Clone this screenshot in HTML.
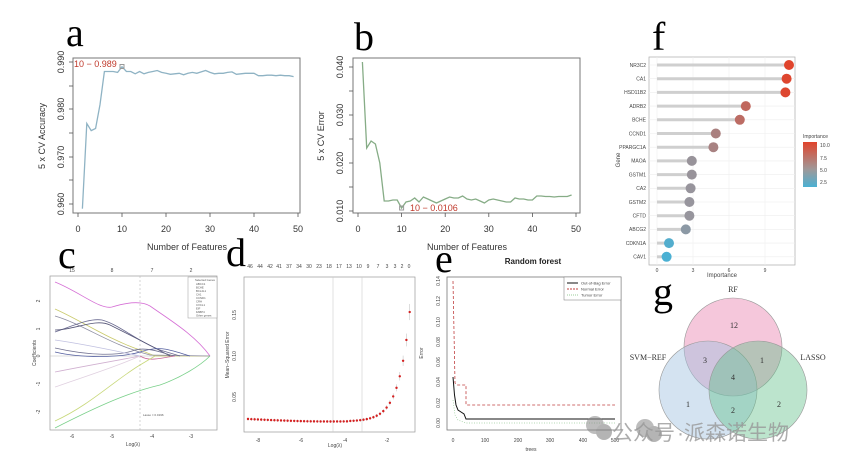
<!DOCTYPE html>
<html><head><meta charset="utf-8"><style>
html,body{margin:0;padding:0;background:#fff}
svg{display:block;font-family:"Liberation Sans",sans-serif}
.L{font-family:"Liberation Serif",serif;font-size:40px;fill:#000}
.t{font-size:9px;fill:#333}
.s{font-size:5px;fill:#444}
</style></head><body>
<svg id="s" width="852" height="462" viewBox="0 0 852 462" xmlns="http://www.w3.org/2000/svg">
<rect width="852" height="462" fill="#fff"/>
<!-- panel a -->
<text class="L" x="66" y="46">a</text>
<rect x="73" y="58" width="227" height="155" fill="none" stroke="#777" stroke-width="1"/>
<g stroke="#555" stroke-width="0.8">
<line x1="73" y1="62" x2="69" y2="62"/><line x1="73" y1="86" x2="69" y2="86"/><line x1="73" y1="109" x2="69" y2="109"/><line x1="73" y1="133" x2="69" y2="133"/><line x1="73" y1="157" x2="69" y2="157"/><line x1="73" y1="180" x2="69" y2="180"/><line x1="73" y1="204" x2="69" y2="204"/>
<line x1="78" y1="213" x2="78" y2="217"/><line x1="122" y1="213" x2="122" y2="217"/><line x1="166" y1="213" x2="166" y2="217"/><line x1="210" y1="213" x2="210" y2="217"/><line x1="254" y1="213" x2="254" y2="217"/><line x1="298" y1="213" x2="298" y2="217"/>
</g>
<g class="t" text-anchor="middle">
<text transform="translate(64,62) rotate(-90)">0.990</text><text transform="translate(64,109) rotate(-90)">0.980</text><text transform="translate(64,157) rotate(-90)">0.970</text><text transform="translate(64,204) rotate(-90)">0.960</text>
<text transform="translate(45,136) rotate(-90)">5 x CV Accuracy</text>
<text x="78" y="232">0</text><text x="122" y="232">10</text><text x="166" y="232">20</text><text x="210" y="232">30</text><text x="254" y="232">40</text><text x="298" y="232">50</text>
<text x="187" y="250">Number of Features</text>
</g>
<polyline fill="none" stroke="#8fb3c4" stroke-width="1.3" points="82.4,208.7 86.8,123.5 91.2,130.6 95.6,128.4 100,104.6 104.4,71.5 108.8,71.5 113.2,71.5 117.6,72.4 122,66.7 126.4,71.5 130.8,71.5 135.2,73.8 139.6,71.5 144,73.8 148.4,72.4 152.8,71.5 157.2,70.5 161.6,72.4 166,73.3 170.4,74.3 174.8,73.8 179.2,73.3 183.6,74.8 188,73.3 192.4,72.4 196.8,73.3 201.2,71.9 205.6,70.5 210,72.4 214.4,73.8 218.8,73.3 223.2,73.3 227.6,72.4 232,71.9 236.4,74.3 240.8,73.8 245.2,73.3 249.6,73.3 254,73.3 258.4,75.7 262.8,75.7 267.2,75.2 271.6,75.2 276,75.7 280.4,75.2 284.8,75.7 289.2,75.7 293.6,76.6"/>
<rect x="120" y="64.5" width="4" height="4" fill="none" stroke="#999"/>
<text x="74" y="67" font-size="9" fill="#c0392b">10 − 0.989</text>

<!-- panel b -->
<text class="L" x="354" y="50">b</text>
<rect x="353" y="58" width="227" height="155" fill="none" stroke="#777"/>
<g stroke="#555" stroke-width="0.8">
<line x1="353" y1="67" x2="349" y2="67"/><line x1="353" y1="91" x2="349" y2="91"/><line x1="353" y1="115" x2="349" y2="115"/><line x1="353" y1="139" x2="349" y2="139"/><line x1="353" y1="163" x2="349" y2="163"/><line x1="353" y1="187" x2="349" y2="187"/><line x1="353" y1="211" x2="349" y2="211"/>
<line x1="358" y1="213" x2="358" y2="217"/><line x1="401.6" y1="213" x2="401.6" y2="217"/><line x1="445.2" y1="213" x2="445.2" y2="217"/><line x1="488.8" y1="213" x2="488.8" y2="217"/><line x1="532.4" y1="213" x2="532.4" y2="217"/><line x1="576" y1="213" x2="576" y2="217"/>
</g>
<g class="t" text-anchor="middle">
<text transform="translate(343,67) rotate(-90)">0.040</text><text transform="translate(343,115) rotate(-90)">0.030</text><text transform="translate(343,163) rotate(-90)">0.020</text><text transform="translate(343,211) rotate(-90)">0.010</text>
<text transform="translate(324,136) rotate(-90)">5 x CV Error</text>
<text x="358" y="232">0</text><text x="401.6" y="232">10</text><text x="445.2" y="232">20</text><text x="488.8" y="232">30</text><text x="532.4" y="232">40</text><text x="576" y="232">50</text>
<text x="467" y="250">Number of Features</text>
</g>
<polyline fill="none" stroke="#86ac86" stroke-width="1.3" points="362.4,62 366.7,148 371.1,141 375.4,144 379.8,163 384.2,201 388.5,201 392.9,200 397.2,200 401.6,208 406,202 410.3,201 414.7,198 419,202 423.4,197 427.8,199 432.1,201 436.5,203 440.8,201 445.2,199 449.6,197 453.9,198 458.3,198 462.6,196 467,199 471.4,200 475.7,199 480.1,201 484.4,203 488.8,200 493.2,199 497.5,200 501.9,201 506.2,202 510.6,202 515,198 519.3,199 523.7,199 528,200 532.4,200 536.8,196 541.1,196 545.5,196.5 549.8,196.5 554.2,197 558.6,196.5 562.9,196.5 567.3,196.5 571.6,195"/>
<rect x="399.6" y="206" width="4" height="4" fill="none" stroke="#999"/>
<text x="410" y="211" font-size="9" fill="#c0392b">10 − 0.0106</text>

<!-- panel f -->
<text class="L" x="652" y="50">f</text>
<rect x="649" y="57" width="146" height="208" fill="#fff" stroke="#aaa" stroke-width="0.7"/>
<g stroke="#eee" stroke-width="0.6" id="fgrid"></g>
<g id="fplot"></g>
<g class="s" text-anchor="middle">
<text x="657" y="272">0</text><text x="693" y="272">3</text><text x="729" y="272">6</text><text x="765" y="272">9</text>
<text x="722" y="277" font-size="6">Importance</text>
<text transform="translate(620,160) rotate(-90)" font-size="6">Gene</text>
<text x="803" y="138" text-anchor="start">Importance</text>
<text x="820" y="147" text-anchor="start">10.0</text><text x="820" y="160" text-anchor="start">7.5</text><text x="820" y="172" text-anchor="start">5.0</text><text x="820" y="184" text-anchor="start">2.5</text>
</g>
<defs><linearGradient id="cg" x1="0" y1="0" x2="0" y2="1"><stop offset="0" stop-color="#e0442c"/><stop offset="0.6" stop-color="#a09898"/><stop offset="1" stop-color="#4bb0d3"/></linearGradient></defs>
<rect x="803" y="142" width="14" height="45" fill="url(#cg)"/>

<!-- panel c -->
<text class="L" x="58" y="268">c</text>
<rect x="50" y="276" width="167" height="154" fill="none" stroke="#999" stroke-width="0.7"/>
<g class="s" text-anchor="middle">
<text x="72" y="272">15</text><text x="112" y="272">8</text><text x="152" y="272">7</text><text x="191" y="272">2</text>
<text x="72" y="438">-6</text><text x="112" y="438">-5</text><text x="152" y="438">-4</text><text x="191" y="438">-3</text>
<text x="133" y="446">Log(λ)</text>
<text transform="translate(40,301) rotate(-90)">2</text><text transform="translate(40,329) rotate(-90)">1</text><text transform="translate(40,356) rotate(-90)">0</text><text transform="translate(40,384) rotate(-90)">-1</text><text transform="translate(40,412) rotate(-90)">-2</text>
<text transform="translate(36,353) rotate(-90)">Coefficients</text>
</g>
<line x1="140" y1="276" x2="140" y2="430" stroke="#bbb" stroke-dasharray="2,2" stroke-width="0.6"/>
<line x1="50" y1="356" x2="210" y2="356" stroke="#bbb" stroke-width="0.5"/>
<g fill="none" stroke-width="0.8">
<path d="M55,282 C80,292 100,310 112,307 C125,303 140,300 150,306 C170,320 195,335 210,356" stroke="#d56fd5"/>
<path d="M55,309 C80,320 110,340 140,350 L155,356 L210,356" stroke="#c9c96a"/>
<path d="M55,316 C85,325 110,345 150,355 L210,356" stroke="#8c8ca0"/>
<path d="M55,332 C75,325 90,318 102,320 C120,325 135,340 160,350 L180,356" stroke="#6a6a90"/>
<path d="M55,330 C75,330 95,318 110,325 C130,335 150,345 170,356" stroke="#555577"/>
<path d="M55,352 C80,358 120,358 140,352 C160,345 170,350 190,356" stroke="#5560a0"/>
<path d="M55,348 C90,356 120,356 135,350 C150,346 170,356 175,356" stroke="#707090"/>
<path d="M140,356 C150,362 160,358 175,356" stroke="#c86a9a"/>
<path d="M55,421 C90,405 115,380 140,365 L155,356" stroke="#c8d87a"/>
<path d="M55,428 C100,405 130,392 160,385 C180,378 200,366 210,356" stroke="#7ad08a"/>
<path d="M55,372 C90,365 120,360 140,356" stroke="#d0b0d0"/>
<path d="M55,387 C90,375 120,365 140,356" stroke="#e0d0e0"/>
<path d="M55,340 C90,345 120,352 140,356" stroke="#c0c0e0"/>
</g>
<rect x="188" y="277" width="29" height="41" fill="#fff" stroke="#999" stroke-width="0.5"/>
<g font-size="2.8" fill="#555"><text x="195" y="281">Selected Genes</text><text x="196" y="285">ABCC1</text><text x="196" y="288.5">BCHE</text><text x="196" y="292">BCL2L1</text><text x="196" y="295.5">CA1</text><text x="196" y="299">CCND1</text><text x="196" y="302.5">CRH</text><text x="196" y="306">CXCL1</text><text x="196" y="309.5">EIF</text><text x="196" y="313">FABP4</text><text x="196" y="316.5">Other genes</text></g>
<text x="143" y="416" font-size="3" fill="#555">Lasso = 0.0196</text>

<!-- panel d -->
<text class="L" x="226" y="266">d</text>
<rect x="244" y="277" width="171" height="155" fill="none" stroke="#999" stroke-width="0.7"/>
<g class="s" text-anchor="middle">
<text x="250" y="268">46</text><text x="260" y="268">44</text><text x="270" y="268">42</text><text x="279" y="268">41</text><text x="289" y="268">37</text><text x="299" y="268">34</text><text x="309" y="268">30</text><text x="319" y="268">23</text><text x="329" y="268">18</text><text x="339" y="268">17</text><text x="349" y="268">13</text><text x="359" y="268">10</text><text x="368" y="268">9</text><text x="378" y="268">7</text><text x="387" y="268">3</text><text x="395" y="268">3</text><text x="402" y="268">2</text><text x="409" y="268">0</text>
<text x="258" y="442">-8</text><text x="301" y="442">-6</text><text x="345" y="442">-4</text><text x="387" y="442">-2</text>
<text x="335" y="447">Log(λ)</text>
<text transform="translate(236,315) rotate(-90)">0.15</text><text transform="translate(236,356) rotate(-90)">0.10</text><text transform="translate(236,397) rotate(-90)">0.05</text>
<text transform="translate(229,355) rotate(-90)">Mean−Squared Error</text>
</g>
<line x1="333" y1="277" x2="333" y2="432" stroke="#ccc" stroke-width="0.6"/>
<line x1="362" y1="277" x2="362" y2="432" stroke="#ccc" stroke-width="0.6"/>
<g id="dplot"></g>

<!-- panel e -->
<text class="L" x="435" y="272">e</text>
<text x="533" y="264" font-size="8" font-weight="bold" text-anchor="middle" fill="#222">Random forest</text>
<rect x="447" y="277" width="174" height="153" fill="none" stroke="#777" stroke-width="0.8"/>
<g class="s" text-anchor="middle" font-size="6">
<text x="453" y="442">0</text><text x="485" y="442">100</text><text x="518" y="442">200</text><text x="550" y="442">300</text><text x="583" y="442">400</text><text x="615" y="442">500</text>
<text x="531" y="451">trees</text>
<text transform="translate(440,281) rotate(-90)">0.14</text><text transform="translate(440,301) rotate(-90)">0.12</text><text transform="translate(440,322) rotate(-90)">0.10</text><text transform="translate(440,342) rotate(-90)">0.08</text><text transform="translate(440,362) rotate(-90)">0.06</text><text transform="translate(440,382) rotate(-90)">0.04</text><text transform="translate(440,403) rotate(-90)">0.02</text><text transform="translate(440,423) rotate(-90)">0.00</text>
<text transform="translate(423,353) rotate(-90)">Error</text>
</g>
<g fill="none">
<polyline stroke="#c04040" stroke-dasharray="3,2" stroke-width="0.8" points="453,281 455,383 457,385 466,385 466,405 615,405"/>
<polyline stroke="#9c9" stroke-dasharray="1,1.5" stroke-width="0.7" points="453,400 455,415 458,420 466,423 615,423"/>
<polyline stroke="#111" stroke-width="1" points="453,377 454.5,395 456,405 458,410 461,412 464,414 466,419 615,419"/>
</g>
<rect x="564" y="277" width="57" height="23" fill="#fff" stroke="#777" stroke-width="0.5"/>
<g font-size="4" fill="#444"><line x1="567" y1="283" x2="578" y2="283" stroke="#111"/><text x="581" y="284.5">Out-of-Bag Error</text>
<line x1="567" y1="289" x2="578" y2="289" stroke="#c04040" stroke-dasharray="2,1"/><text x="581" y="290.5">Normal Error</text>
<line x1="567" y1="295" x2="578" y2="295" stroke="#9c9" stroke-dasharray="1,1"/><text x="581" y="296.5">Tumor Error</text></g>

<!-- panel g -->
<text class="L" x="653" y="305">g</text>
<circle cx="733" cy="347" r="49" fill="rgba(232,130,175,0.45)" stroke="#999" stroke-width="0.6"/>
<circle cx="708" cy="390" r="49" fill="rgba(160,192,225,0.45)" stroke="#999" stroke-width="0.6"/>
<circle cx="758" cy="390" r="49" fill="rgba(95,190,135,0.42)" stroke="#999" stroke-width="0.6"/>
<g font-family="Liberation Serif,serif" font-size="8" fill="#333" text-anchor="middle">
<text x="733" y="292">RF</text><text x="648" y="360">SVM−REF</text><text x="813" y="360">LASSO</text>
<text x="734" y="328">12</text><text x="705" y="363">3</text><text x="762" y="363">1</text><text x="733" y="380">4</text><text x="688" y="407">1</text><text x="733" y="413">2</text><text x="779" y="407">2</text>
</g>
<g opacity="0.55">
<circle cx="595" cy="425" r="9" fill="#888"/><circle cx="604" cy="432" r="8" fill="#777"/>
<circle cx="645" cy="428" r="9" fill="#888"/><circle cx="654" cy="434" r="8" fill="#777"/>
</g>
<text x="612" y="440" font-family="Liberation Sans,'Noto Sans CJK SC',sans-serif" font-size="21" fill="#999" opacity="0.8">公众号<tspan dx="2">·派森诺生物</tspan></text>
</svg>
<script>
var NS="http://www.w3.org/2000/svg";
function el(p,t,a){var e=document.createElementNS(NS,t);for(var k in a)e.setAttribute(k,a[k]);p.appendChild(e);return e;}
var genes=[["NR3C2",11.0],["CA1",10.8],["HSD11B2",10.7],["ADRB2",7.4],["BCHE",6.9],["CCND1",4.9],["PPARGC1A",4.7],["MAOA",2.9],["GSTM1",2.9],["CA2",2.8],["GSTM2",2.7],["CFTD",2.7],["ABCG2",2.4],["CDKN1A",1.0],["CAV1",0.8]];
var g=document.getElementById("fgrid"),f=document.getElementById("fplot");
[657,693,729,765].forEach(function(x){el(g,"line",{x1:x,y1:57,x2:x,y2:265});});
function col(v){var t=Math.max(0,Math.min(1,(v-0.8)/10.2));var a=[75,176,211],m=[150,150,158],b=[224,68,44],c;
if(t<0.18){var u=t/0.18;c=a.map(function(q,i){return Math.round(q+(m[i]-q)*u)});}else{var u=(t-0.18)/0.82;c=m.map(function(q,i){return Math.round(q+(b[i]-q)*u)});}
return "rgb("+c.join(",")+")";}
genes.forEach(function(d,i){var y=65+i*13.7,x=657+d[1]*12;
el(g,"line",{x1:649,y1:y,x2:795,y2:y});
el(f,"line",{x1:657,y1:y,x2:x,y2:y,stroke:"#cfcfcf","stroke-width":3});
el(f,"circle",{cx:x,cy:y,r:5,fill:col(d[1])});
var t=el(f,"text",{x:646,y:y+1.8,"font-size":5,fill:"#444","text-anchor":"end"});t.textContent=d[0];});
var dp=document.getElementById("dplot");
for(var i=0;i<50;i++){var x=248+i*3.3;var y=419+2.5*Math.sin((x-248)/82*Math.PI*0.5);
if(x>350)y=421.5-0.53*Math.exp((x-350)/11.2);
var e=Math.max(1.5,(421.5-y)*0.06+1.5);
el(dp,"line",{x1:x,y1:y-e,x2:x,y2:y+e,stroke:"#bbb","stroke-width":0.5});
el(dp,"circle",{cx:x,cy:y,r:1.2,fill:"#d42020"});}
</script>
</body></html>
